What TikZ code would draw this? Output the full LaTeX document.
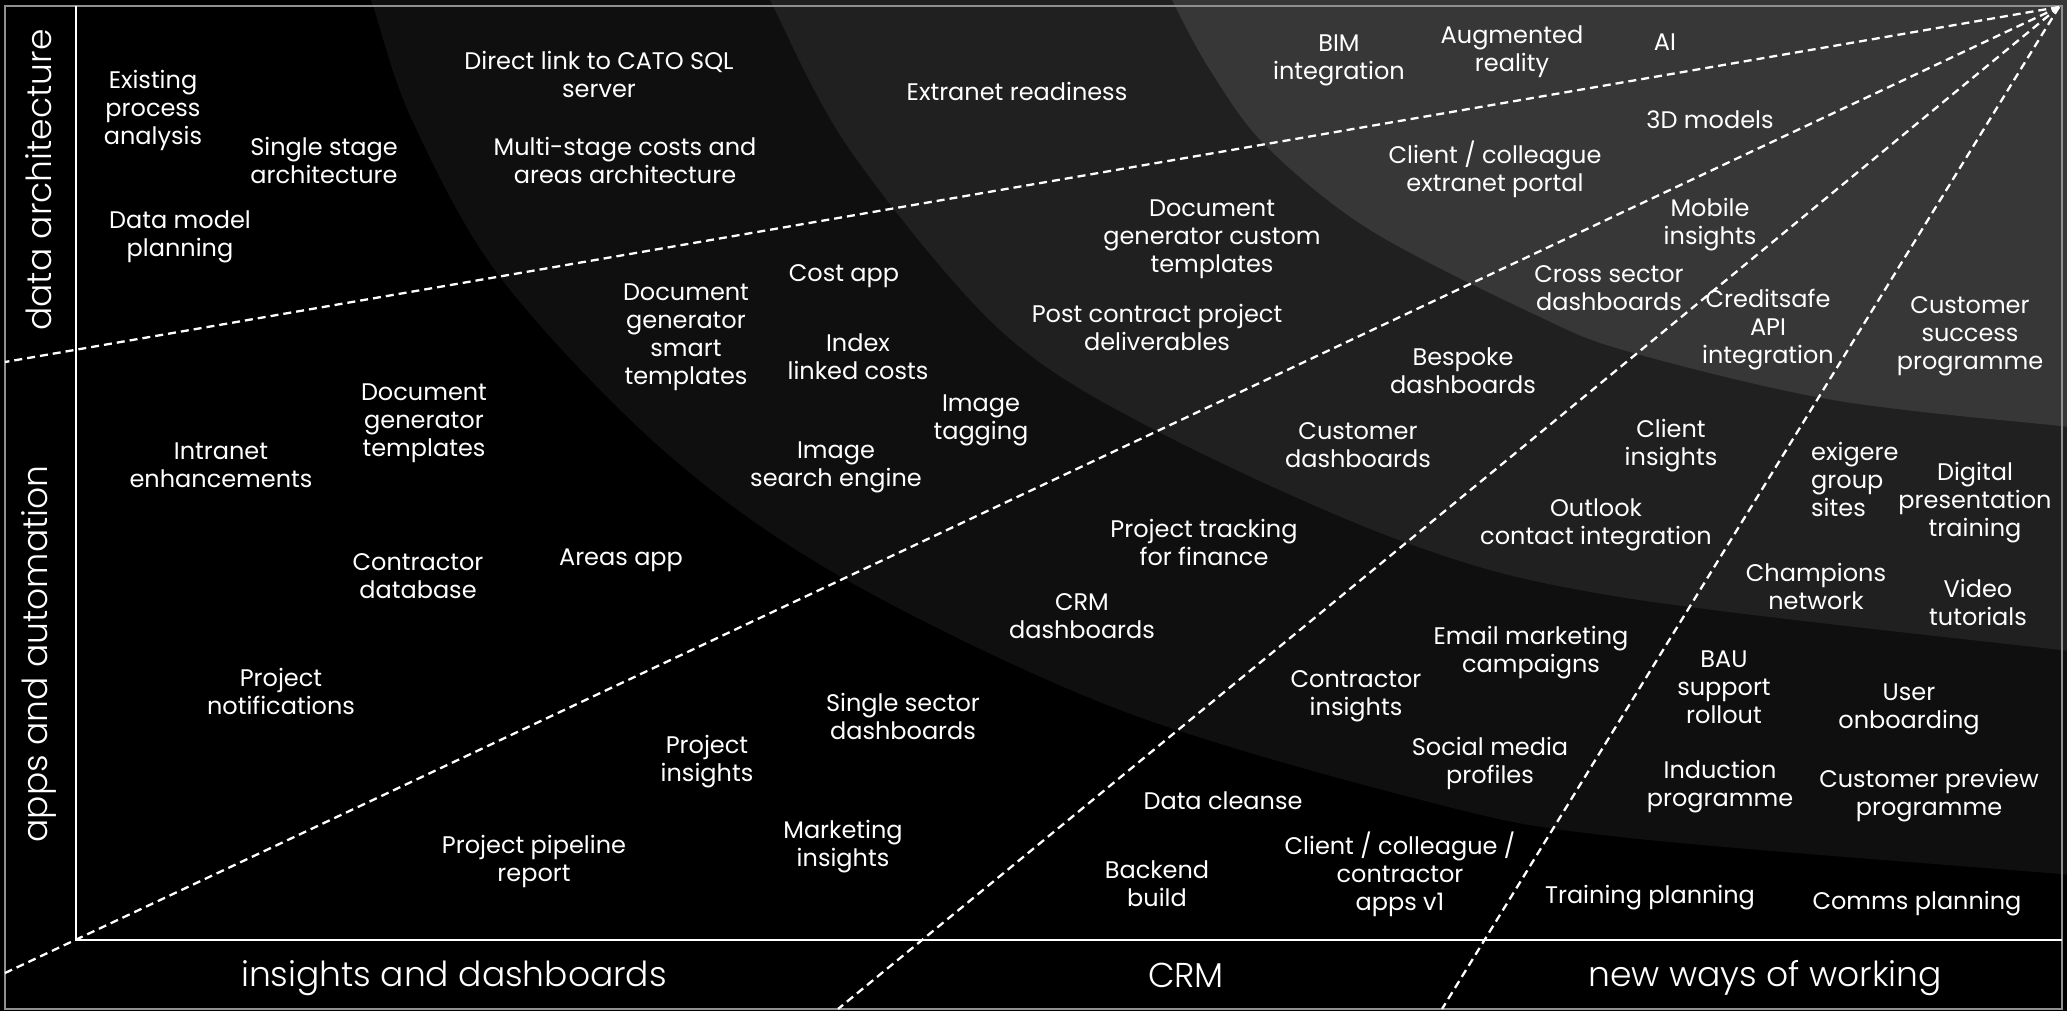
\documentclass[tikz,border=0pt]{standalone}
\usepackage{fontspec}
\setmainfont{Poppins}
\newfontfamily\lightfont{Poppins Light}
\definecolor{bandA}{HTML}{0F0F0F}
\definecolor{bandB}{HTML}{202020}
\definecolor{bandC}{HTML}{373737}
\definecolor{framegray}{HTML}{909090}
\begin{document}
\begin{tikzpicture}[x=1pt,y=-1pt,
  txt/.style={text=white, align=center, inner sep=0pt, font=\fontsize{24}{28}\selectfont},
  axislbl/.style={text=white, inner sep=0pt, font=\lightfont\fontsize{34.5}{38}\selectfont},
  divider/.style={white, line width=2.3pt, dash pattern=on 8pt off 5pt},
  frameline/.style={draw=framegray, line width=1.5pt},
  axisline/.style={white, line width=1.6pt}]
\useasboundingbox (0,0) rectangle (2067,1011);
\fill[black] (0,0) rectangle (2067,1011);
% shaded bands
\begin{scope}
\clip (76,0) rectangle (2067,940);
\fill[bandA] plot[smooth,tension=0.55] coordinates {(366,-12) (373,6) (412,120) (500,277) (663,450) (843,578) (1120,710) (1433,803) (1620,837) (2061,874) (2110,878)} -- (2110,-12) -- cycle;
\fill[bandB] plot[smooth,tension=0.55] coordinates {(767,-12) (773,6) (850,150) (1000,330) (1157,431) (1407,543) (1620,597) (2061,650) (2110,654)} -- (2110,-12) -- cycle;
\fill[bandC] plot[smooth,tension=0.55] coordinates {(1168,-12) (1175,6) (1210,70) (1265,145) (1370,230) (1540,317) (1630,352) (1833,400) (2061,426) (2110,429)} -- (2110,-12) -- cycle;
\end{scope}
% frame and axes
\draw[frameline] (5,6) rectangle (2062,1009);
\draw[axisline] (76,6) -- (76,940) -- (2062,940);
% dividers
\coordinate (apex) at (2059,7);
\coordinate (e1) at (5,362);
\coordinate (e2) at (5,973);
\coordinate (e3) at (838,1009);
\coordinate (e4) at (1442,1009);
\draw[divider] (apex) -- (e1);
\draw[divider] (apex) -- (e2);
\draw[divider] (apex) -- (e3);
\draw[divider] (apex) -- (e4);
% axis labels
\node[axislbl, rotate=90] (la) at (39,180) {data architecture};
\node[axislbl, rotate=90] (lb) at (39,654) {apps and automation};
\node[axislbl] (lc) at (454,978) {insights and dashboards};
\node[axislbl] (ld) at (1186,975) {CRM};
\node[axislbl] (le) at (1765,978) {new ways of working};
% items
\node[txt] (n1) at (153,110) {Existing\\process\\analysis};
\node[txt] (n2) at (324,160) {Single stage\\architecture};
\node[txt] (n3) at (180,237) {Data model\\planning};
\node[txt] (n4) at (599,74) {Direct link to CATO SQL\\server};
\node[txt] (n5) at (625,160) {Multi-stage costs and\\areas architecture};
\node[txt] (n6) at (1017,91) {Extranet readiness};
\node[txt] (n7) at (1339,60) {BIM\\integration};
\node[txt] (n8) at (1512,52) {Augmented\\reality};
\node[txt] (n9) at (1665,42) {AI};
\node[txt] (n10) at (1710,120) {3D models};
\node[txt] (n11) at (1495,169) {Client / colleague\\extranet portal};
\node[txt] (n12) at (1710,225) {Mobile\\insights};
\node[txt] (n13) at (1609,288) {Cross sector\\dashboards};
\node[txt] (n14) at (1768,330) {Creditsafe\\API\\integration};
\node[txt] (n15) at (1970,336) {Customer\\success\\programme};
\node[txt] (n16) at (1212,239) {Document\\generator custom\\templates};
\node[txt] (n17) at (1157,327) {Post contract project\\deliverables};
\node[txt] (n18) at (844,276) {Cost app};
\node[txt] (n19) at (686,337) {Document\\generator\\smart\\templates};
\node[txt] (n20) at (858,357) {Index\\linked costs};
\node[txt] (n21) at (981,420) {Image\\tagging};
\node[txt] (n22) at (836,467) {Image\\search engine};
\node[txt] (n23) at (1463,371) {Bespoke\\dashboards};
\node[txt] (n24) at (1358,445) {Customer\\dashboards};
\node[txt] (n25) at (1671,446) {Client\\insights};
\node[txt] (n26) at (1596,525) {Outlook\\contact integration};
\node[txt, align=left, anchor=west] (n27) at (1811,479) {exigere\\group\\sites};
\node[txt] (n28) at (1975,503) {Digital\\presentation\\training};
\node[txt] (n29) at (1816,586) {Champions\\network};
\node[txt] (n30) at (1978,602) {Video\\tutorials};
\node[txt] (n31) at (1204,542) {Project tracking\\for finance};
\node[txt] (n32) at (1082,616) {CRM\\dashboards};
\node[txt] (n33) at (1531,653) {Email marketing\\campaigns};
\node[txt] (n34) at (1356,696) {Contractor\\insights};
\node[txt] (n35) at (1724,687) {BAU\\support\\rollout};
\node[txt] (n36) at (1909,709) {User\\onboarding};
\node[txt] (n37) at (1490,763) {Social media\\profiles};
\node[txt] (n38) at (1720,787) {Induction\\programme};
\node[txt] (n39) at (1929,796) {Customer preview\\programme};
\node[txt] (n40) at (1223,801) {Data cleanse};
\node[txt] (n41) at (1157,884) {Backend\\build};
\node[txt] (n42) at (1400,874) {Client / colleague /\\contractor\\apps v1};
\node[txt] (n43) at (1650,898) {Training planning};
\node[txt] (n44) at (1917,904) {Comms planning};
\node[txt] (n45) at (903,716) {Single sector\\dashboards};
\node[txt] (n46) at (707,762) {Project\\insights};
\node[txt] (n47) at (843,847) {Marketing\\insights};
\node[txt] (n48) at (534,861) {Project pipeline\\report};
\node[txt] (n49) at (281,691) {Project\\notifications};
\node[txt] (n50) at (418,576) {Contractor\\database};
\node[txt] (n51) at (621,560) {Areas app};
\node[txt] (n52) at (221,465) {Intranet\\enhancements};
\node[txt] (n53) at (424,423) {Document\\generator\\templates};
\end{tikzpicture}
\end{document}
